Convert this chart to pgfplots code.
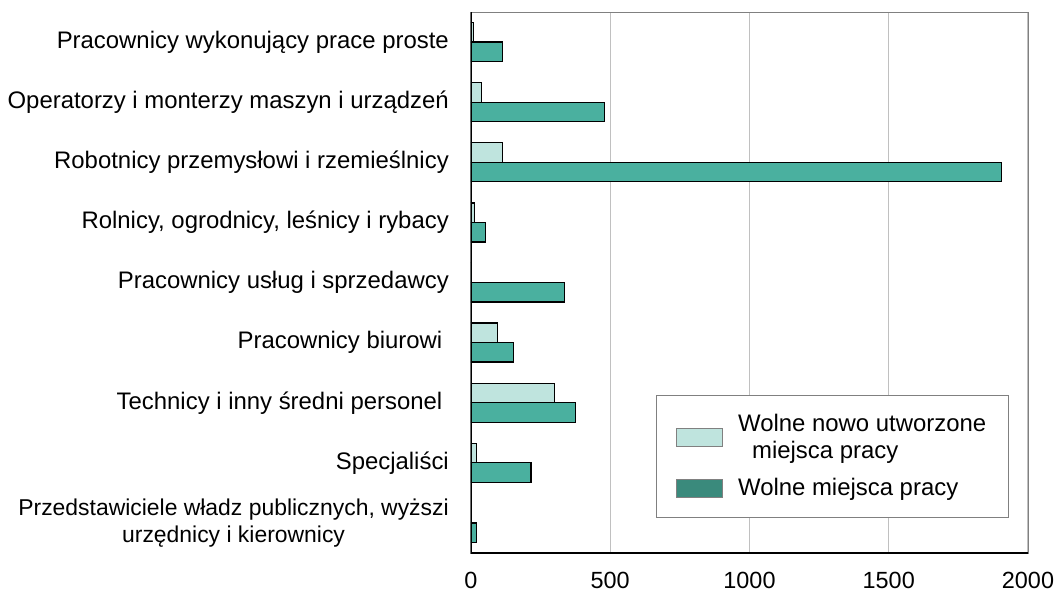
\documentclass[border=0pt]{standalone}
\usepackage{pgfplots}
\pgfplotsset{compat=1.18}
\usepackage{fontspec}
\setmainfont{Liberation Sans}
\definecolor{lightbar}{HTML}{BFE4DE}
\definecolor{darkbar}{HTML}{4AB09F}
\definecolor{darkleg}{HTML}{3A8A7C}
\definecolor{gridc}{HTML}{C0C0C0}
\begin{document}
\fontsize{24}{28}\selectfont
\begin{tikzpicture}
\useasboundingbox (-471bp,-39bp) rectangle (586bp,553bp);
\begin{axis}[
  at={(0,0)}, anchor=south west,
  scale only axis, width=557bp, height=541bp,
  xbar, bar width=19.5bp,
  xmin=0, xmax=2000, ymin=-0.5, ymax=8.5, y dir=reverse,
  xtick={0,500,1000,1500,2000},
  ytick={0,1,2,3,4,5,6,7,8},
  yticklabels={
    {Pracownicy wykonujący prace proste},
    {Operatorzy i monterzy maszyn i urządzeń},
    {Robotnicy przemysłowi i rzemieślnicy},
    {Rolnicy, ogrodnicy, leśnicy i rybacy},
    {Pracownicy usług i sprzedawcy},
    {Pracownicy biurowi\rule{6.5bp}{0pt}},
    {Technicy i inny średni personel\rule{6.5bp}{0pt}},
    {Specjaliści},
    {\fontsize{23}{27}\selectfont Przedstawiciele władz publicznych, wyższi\\\fontsize{23}{27}\selectfont urzędnicy i kierownicy}},
  major tick length=0pt,
  /pgf/number format/assume math mode=true,
  /pgf/number format/1000 sep={},
  yticklabel style={align=center, inner sep=0pt, xshift=-22bp, font=\fontsize{24}{27}\selectfont},
  xticklabel style={inner sep=0pt, yshift=-18.5bp, font=\fontsize{23.5}{27}\selectfont},
  xmajorgrids, grid style={gridc, line width=1.3bp},
  axis line style={draw=gray, line width=1bp},
  legend style={at={(0.332,0.0647)}, anchor=south west, draw=gray, line width=0.8bp,
    fill=white, inner xsep=20bp, inner ysep=17bp, row sep=12bp, column sep=13bp,
    font=\fontsize{24}{27}\selectfont,
    cells={align=left, anchor=west}},
]
\addplot[xbar, bar shift=9.75bp, fill=lightbar, draw=black, line width=1.3bp, forget plot]
  coordinates {(9,0) (37,1) (113,2) (12,3) (3,4) (94,5) (301,6) (21,7)};
\addplot[xbar, bar shift=-9.75bp, fill=darkbar, draw=black, line width=1.3bp, forget plot]
  coordinates {(112,0) (480,1) (1905,2) (51,3) (336,4) (152,5) (375,6) (215,7) (21,8)};
\addlegendimage{legend image code/.code={\draw[fill=lightbar, draw=gray, line width=0.8bp] (0bp,-9bp) rectangle (46bp,9bp);}}
\addlegendentry{Wolne nowo utworzone\\\hspace*{14bp}miejsca pracy}
\addlegendimage{legend image code/.code={\draw[fill=darkleg, draw=gray, line width=0.8bp] (0bp,-9bp) rectangle (46bp,9bp);}}
\addlegendentry{Wolne miejsca pracy}
\draw[black, line width=1.3bp] (axis description cs:0,1) -- (axis description cs:0,0) -- (axis description cs:1,0);
\end{axis}
\end{tikzpicture}
\end{document}
